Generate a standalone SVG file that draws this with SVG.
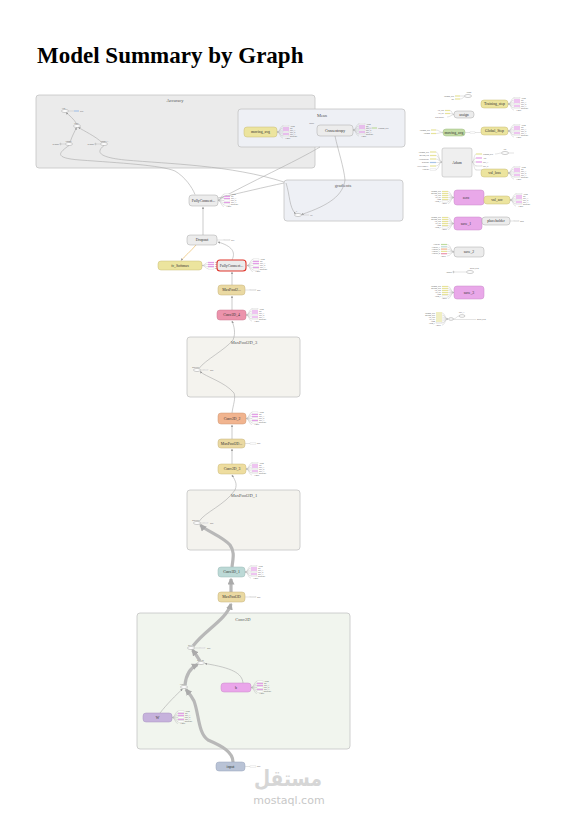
<svg xmlns="http://www.w3.org/2000/svg" width="573" height="820" viewBox="0 0 573 820">
<style>
.title{font-family:"Liberation Serif",serif;font-weight:bold;font-size:23px;fill:#000}
.box{stroke:#c4c4c4;stroke-width:0.8}
.bA{fill:#ebebeb}
.bM{fill:#eef0f5}
.bP{fill:#f4f3ee}
.bC{fill:#f1f5ee}
.bt{font-family:"Liberation Serif",serif;font-size:4.5px;fill:#555;text-anchor:middle}
.nd{stroke:#a8a8a8;stroke-width:0.5}
.gray{fill:#ececec}
.yel{fill:#ece49e;stroke:#c9bc76;stroke-width:0.5}
.mp{fill:#ead9a2;stroke:#c7b27a;stroke-width:0.5}
.t{font-family:"Liberation Serif",serif;font-size:3.8px;fill:#333;text-anchor:middle}
.s{font-family:"Liberation Serif",serif;font-size:1.9px;fill:#555}
.sr{text-anchor:end}
.op{fill:#fff;stroke:#999;stroke-width:0.5}
.e{fill:none;stroke:#aaa;stroke-width:0.6}
.th{fill:none;stroke:#b8b8b8;stroke-width:3.2}
.fl{fill:none;stroke:#b0b0b0;stroke-width:0.35}
.rw{fill:#fff;stroke:#bbb;stroke-width:0.25}
.rp{fill:#e39ee6}
.ry{fill:#e7e39a}
.rg{fill:#bedb9e}
.rb{fill:#a9c4e6}
.ro{fill:#f1b48e}
.rk{fill:#ec93ac}
.rt{fill:#bcd9d6}
.wm{font-family:"DejaVu Sans",sans-serif;fill:#d6d6d6}
</style>
<defs>
<marker id="ar" viewBox="0 0 10 10" refX="9" refY="5" markerWidth="4" markerHeight="4" orient="auto"><path d="M0,0L10,5L0,10z" fill="#999"/></marker>
<marker id="arT" viewBox="0 0 10 10" refX="8" refY="5" markerWidth="7" markerHeight="7" markerUnits="userSpaceOnUse" orient="auto"><path d="M0,0L10,5L0,10z" fill="#aaa"/></marker>
<g id="fan7">
<path class="fl" d="M0,0C3,0 3,-6 6,-6M0,0C3,0 3,-4 6,-4M0,0C3,0 3,-2 6,-2M0,0H6M0,0C3,0 3,2 6,2M0,0C3,0 3,4 6,4M0,0C3,0 3,6 6,6"/>
<rect class="rw" x="6" y="-6.6" width="6" height="1.2"/>
<rect class="rp" x="6" y="-4.6" width="6" height="1.2"/>
<rect class="rp" x="6" y="-2.6" width="6" height="1.2"/>
<rect class="rw" x="6" y="-0.6" width="6" height="1.2"/>
<rect class="rp" x="6" y="1.4" width="6" height="1.2"/>
<rect class="rw" x="6" y="3.4" width="6" height="1.2"/>
<text class="s" x="13" y="-5.3">Adam</text>
<text class="s" x="13" y="-3.3">init</text>
<text class="s" x="13" y="-1.3">save_1</text>
<text class="s" x="13" y="0.7">save_2</text>
<text class="s" x="13" y="2.7">save_3</text>
<text class="s" x="13" y="4.7">gradients</text>
<text class="s" x="8" y="6.7">1 more</text>
</g>
<g id="fan4">
<path class="fl" d="M0,0C3,0 3,-3 6,-3M0,0C3,0 3,-1 6,-1M0,0C3,0 3,1 6,1M0,0C3,0 3,3 6,3"/>
<rect class="rp" x="6" y="-3.6" width="6" height="1.2"/>
<rect class="rp" x="6" y="-1.6" width="6" height="1.2"/>
<rect class="rp" x="6" y="0.4" width="6" height="1.2"/>
<rect class="rw" x="6" y="2.4" width="6" height="1.2"/>
<text class="s" x="13" y="-2.3">save</text>
<text class="s" x="13" y="-0.3">save_1</text>
<text class="s" x="13" y="1.7">save_2</text>
<text class="s" x="13" y="3.7">gradients</text>
</g>
<g id="fin7">
<path class="fl" d="M0,0C-3,0 -3,-6 -6,-6M0,0C-3,0 -3,-4 -6,-4M0,0C-3,0 -3,-2 -6,-2M0,0H-6M0,0C-3,0 -3,2 -6,2M0,0C-3,0 -3,4 -6,4M0,0C-3,0 -3,6 -6,6"/>
<rect class="ry" x="-12" y="-6.6" width="6" height="1.2"/>
<rect class="ry" x="-12" y="-4.6" width="6" height="1.2"/>
<rect class="ry" x="-12" y="-2.6" width="6" height="1.2"/>
<rect class="ry" x="-12" y="-0.6" width="6" height="1.2"/>
<rect class="ry" x="-12" y="1.4" width="6" height="1.2"/>
<rect class="rw" x="-12" y="3.4" width="6" height="1.2"/>
<text class="s sr" x="-13" y="-5.3">training_step</text>
<text class="s sr" x="-13" y="-3.3">moving_step</text>
<text class="s sr" x="-13" y="-1.3">val_loss</text>
<text class="s sr" x="-13" y="0.7">val_acc</text>
<text class="s sr" x="-13" y="2.7">Adam</text>
<text class="s sr" x="-13" y="4.7">Adam_1</text>
<text class="s sr" x="-7" y="6.7">1 more</text>
</g>
</defs>
<rect x="0" y="0" width="573" height="820" fill="#fff"/>
<text class="title" x="37" y="63">Model Summary by Graph</text>

<!-- group boxes -->
<g id="Accuracy">
<rect class="box bA" x="36" y="95" width="279" height="73" rx="3"/>
<text class="bt" x="175" y="102">Accuracy</text>
<g id="Cast"><ellipse class="op" cx="65" cy="111" rx="3.5" ry="1.5"/><text class="s" x="62" y="108.5">Cast</text>
<path class="fl" d="M68.5,111H74"/><rect class="rb" x="74" y="110.4" width="5" height="1.2"/><text class="s" x="80" y="111.7">bool</text></g>
<g id="Equal"><ellipse class="op" cx="77" cy="126" rx="3.5" ry="1.5"/><text class="s" x="74" y="123.5">Equal</text></g>
<g id="ArgMax"><ellipse class="op" cx="69" cy="144" rx="3.5" ry="1.5"/><text class="s" x="65" y="141.5">ArgMax</text>
<text class="s sr" x="59" y="144.7">Reshape</text><circle class="op" cx="60.5" cy="144" r="0.7"/><path class="fl" d="M61.2,144H65.5"/></g>
<g id="ArgMax_1"><ellipse class="op" cx="104" cy="144" rx="3.5" ry="1.5"/><text class="s" x="100" y="141.5">ArgMax_1</text>
<text class="s sr" x="94" y="144.7">Reshape</text><circle class="op" cx="95.5" cy="144" r="0.7"/><path class="fl" d="M96.2,144H100.5"/></g>
</g>
<g id="Mean">
<rect class="box bM" x="238" y="109" width="167" height="38" rx="3"/>
<text class="bt" x="322" y="117">Mean</text>
<g id="moving_avg_m"><rect class="yel" x="244" y="127" width="33" height="10" rx="3"/><text class="t" x="260.5" y="133.3">moving_avg</text>
<use href="#fan7" transform="translate(277,132)"/></g>
<g id="Crossentropy"><rect class="gray nd" x="317" y="125" width="36" height="11" rx="3"/><text class="t" x="335" y="131.8">Crossentropy</text>
<use href="#fan7" transform="translate(353,130)"/>
<path class="fl" d="M366,128H372"/><rect class="rg" x="372" y="127.4" width="5" height="1.2"/><text class="s" x="378" y="128.7">Training_step</text>
<text class="s sr" x="314" y="124">output</text></g>
</g>
<g id="gradients">
<rect class="box bM" x="284" y="180" width="119" height="41" rx="3"/>
<text class="bt" x="343" y="187">gradients</text>
<ellipse class="op" cx="298" cy="215" rx="3.5" ry="1.5"/><text class="s" x="296" y="212">0</text>
<path class="fl" d="M301.5,215H309"/><text class="s" x="310" y="215.7">Fill</text>
</g>
<g id="MaxPool2D_3">
<rect class="box bP" x="187" y="337" width="113" height="60" rx="3"/>
<text class="bt" x="244" y="344">MaxPool2D_3</text>
<ellipse class="op" cx="197" cy="370" rx="3.5" ry="1.5"/><text class="s" x="192" y="367.5">MaxPool</text>
<path class="fl" d="M200.5,370H208"/><rect class="rw" x="204" y="369.4" width="4" height="1.2"/><text class="s" x="210" y="370.7">Max</text>
</g>
<g id="MaxPool2D_1">
<rect class="box bP" x="187" y="490" width="113" height="60" rx="3"/>
<text class="bt" x="244" y="497">MaxPool2D_1</text>
<ellipse class="op" cx="197" cy="523" rx="3.5" ry="1.5"/><text class="s" x="192" y="520.5">MaxPool</text>
<path class="fl" d="M200.5,523H208"/><rect class="rw" x="204" y="522.4" width="4" height="1.2"/><text class="s" x="210" y="523.7">Max</text>
</g>
<g id="Conv2D">
<rect class="box bC" x="137" y="613" width="213" height="136" rx="3"/>
<text class="bt" x="243" y="621">Conv2D</text>
<g id="Relu"><ellipse class="op" cx="191" cy="648" rx="3.5" ry="1.5"/><text class="s" x="188" y="645.5">Relu</text>
<path class="fl" d="M194.5,648H205"/><rect class="rw" x="200" y="647.4" width="5" height="1.2"/><text class="s" x="207" y="648.7">Max</text></g>
<g id="BiasAdd"><ellipse class="op" cx="201" cy="663" rx="3.5" ry="1.5"/><text class="s" x="197" y="660.5">BiasAdd</text></g>
<g id="Conv2D_op"><ellipse class="op" cx="184" cy="687" rx="3.5" ry="1.5"/><text class="s" x="180" y="684.5">Conv2D</text></g>
<g id="b"><rect x="221" y="683" width="30" height="9" rx="3" fill="#eaa6ea" stroke="#c88ac8" stroke-width="0.5"/><text class="t" x="236" y="689">b</text>
<use href="#fan7" transform="translate(251,687.5)"/></g>
<g id="W"><rect x="143" y="713" width="29" height="9" rx="3" fill="#c6b2dc" stroke="#a892c0" stroke-width="0.5"/><text class="t" x="157.5" y="719">W</text>
<use href="#fan7" transform="translate(172,717.5)"/></g>
</g>

<!-- connectors -->
<g id="edges">
<path class="e" d="M77,124.5C74,119 69,115 66,112.6" marker-end="url(#ar)"/>
<path class="e" d="M70,142.5C72,136 75,131 76.5,127.6" marker-end="url(#ar)"/>
<path class="e" d="M102,142.5C95,136 84,131 78.5,127.4" marker-end="url(#ar)"/>
<path class="e" d="M69,145.5C60,152 52,158 80,160C120,163 160,165 175,171C185,177 192,187 195,194.5"/>
<path class="e" d="M104,145.5C97,151 96,157 125,160C170,164 230,165 284,182"/>
<path class="e" d="M218,200C250,182 295,162 320,147"/>
<path class="e" d="M218,198C240,193 265,187 284,183"/>
<path class="e" d="M335,136C338,150 344,168 345,180C343,195 330,205 301.5,214.5" marker-end="url(#ar)"/>
<path class="e" d="M286,183C290,195 289,207 295.5,213.8" marker-end="url(#ar)"/>
<path class="e" d="M203,235V207" marker-end="url(#ar)"/>
<path fill="none" stroke="#e8b04c" stroke-width="0.6" d="M196,245C190,252 185,256 181,260.5" marker-end="url(#ar)"/>
<path class="e" d="M232,260C236,252 232,246 218,242" marker-end="url(#ar)"/>
<path class="e" d="M232,285V272" marker-end="url(#ar)"/>
<path class="e" d="M232,310V296" marker-end="url(#ar)"/>
<path class="e" d="M199,368.5C205,360 225,350 233,340C236,333 234,326 232,321" marker-end="url(#ar)"/>
<path class="e" d="M232,413C233,405 236,398 234,393C225,382 206,377 200,371.5" marker-end="url(#ar)"/>
<path class="e" d="M232,439V425" marker-end="url(#ar)"/>
<path class="e" d="M232,464V449" marker-end="url(#ar)"/>
<path class="e" d="M199,521.5C205,512 225,505 235,490C238,483 234,479 232,475" marker-end="url(#ar)"/>
<path class="th" d="M232,567C233,558 235,552 230,545C222,536 206,531 200.5,525" marker-end="url(#arT)"/>
<path class="th" d="M231,592V579" marker-end="url(#arT)"/>
<path class="th" d="M193,646C205,630 226,620 231,604" marker-end="url(#arT)"/>
<path class="th" d="M200,661C197,656 194,652 192.5,650" marker-end="url(#arT)"/>
<path class="th" d="M185,685C186,675 190,668 197.5,664.5" marker-end="url(#arT)"/>
<path class="th" d="M233,762C233,752 222,746 208,740C198,733 199,714 194,701C191,695 188,692 186,689.5" marker-end="url(#arT)"/>
<path class="e" d="M243,683C242,673 232,668 205,663.5" marker-end="url(#ar)"/>
<path class="e" d="M160,713C167,704 176,695 182.5,689" marker-end="url(#ar)"/>
</g>

<!-- main column nodes -->
<g id="FullyConnect"><rect class="gray nd" x="189" y="195" width="29" height="11" rx="3"/><text class="t" x="203.5" y="201.8">FullyConnect...</text>
<use href="#fan7" transform="translate(218,200.5)"/></g>
<g id="Dropout"><rect class="gray nd" x="187" y="235" width="30" height="10" rx="3"/><text class="t" x="202" y="241.3">Dropout</text>
<path class="fl" d="M217,240H230"/><rect class="rw" x="224" y="239.4" width="6" height="1.2"/><text class="s" x="231" y="240.7">Rate</text></g>
<g id="fc_Softmax"><rect class="yel" x="158" y="261" width="44" height="9" rx="3"/><text class="t" x="180" y="267">fc_Softmax</text>
<use href="#fan4" transform="translate(202,265.5)"/></g>
<g id="FullyConnected"><rect x="217" y="260" width="29" height="11" rx="3" fill="#ececec" stroke="#e0372d" stroke-width="1.1"/><text class="t" x="231.5" y="266.8">FullyConnect...</text>
<use href="#fan7" transform="translate(247,265.5)"/></g>
<g id="MaxPool2_a"><rect class="mp" x="218" y="285" width="27" height="10" rx="3"/><text class="t" x="231.5" y="291.3">MaxPool2...</text>
<path class="fl" d="M245,290H256"/><rect class="rw" x="250" y="289.4" width="6" height="1.2"/><text class="s" x="257" y="290.7">Max</text></g>
<g id="Conv2D_4"><rect x="217" y="310" width="29" height="10" rx="3" fill="#ec93ac" stroke="#c9778e" stroke-width="0.5"/><text class="t" x="231.5" y="316.3">Conv2D_4</text>
<use href="#fan7" transform="translate(246,315)"/></g>
<g id="Conv2D_2"><rect x="218" y="413" width="28" height="11" rx="3" fill="#f1b48f" stroke="#cf9673" stroke-width="0.5"/><text class="t" x="232" y="419.8">Conv2D_2</text>
<use href="#fan7" transform="translate(246,418.5)"/></g>
<g id="MaxPool2D_b"><rect class="mp" x="218" y="439" width="27" height="9" rx="3"/><text class="t" x="231.5" y="445">MaxPool2D...</text>
<path class="fl" d="M245,443.5H256"/><rect class="rw" x="250" y="442.9" width="6" height="1.2"/><text class="s" x="257" y="444.2">Max</text></g>
<g id="Conv2D_3"><rect x="218" y="464" width="28" height="10" rx="3" fill="#eedd9f" stroke="#cbb97a" stroke-width="0.5"/><text class="t" x="232" y="470.3">Conv2D_3</text>
<use href="#fan7" transform="translate(246,469)"/></g>
<g id="Conv2D_1"><rect x="218" y="567" width="27" height="10" rx="3" fill="#bcd9d6" stroke="#98b8b5" stroke-width="0.5"/><text class="t" x="231.5" y="573.3">Conv2D_1</text>
<use href="#fan7" transform="translate(245,572)"/></g>
<g id="MaxPool2D"><rect class="mp" x="218" y="592" width="27" height="10" rx="3"/><text class="t" x="231.5" y="598.3">MaxPool2D</text>
<path class="fl" d="M245,597H256"/><rect class="rw" x="250" y="596.4" width="6" height="1.2"/><text class="s" x="257" y="597.7">Max</text></g>
<g id="input"><rect x="216" y="762" width="29" height="9" rx="3" fill="#b9c3d6" stroke="#97a3ba" stroke-width="0.5"/><text class="t" x="230.5" y="768">input</text>
<path class="fl" d="M245,766.5H256"/><rect class="rw" x="250" y="765.9" width="6" height="1.2"/><text class="s" x="257" y="767.2">Max</text></g>

<!-- right column -->
<g id="Assign">
<text class="s sr" x="454" y="96.5">training_step</text><text class="s sr" x="454" y="99.5">init</text>
<rect class="ry" x="455" y="95.4" width="5" height="1.2"/><rect class="ry" x="455" y="98.4" width="5" height="1.2"/>
<path class="fl" d="M460,96C462,96 462,96 464.5,96M460,99C463,99 463,97 465,96.5"/>
<ellipse class="op" cx="468" cy="96" rx="3.5" ry="1.5"/><text class="s" x="466" y="92.5">Assign</text>
</g>
<g id="Training_step"><rect class="yel" x="481" y="100" width="27" height="8" rx="3"/><text class="t" x="494.5" y="105.3">Training_step</text>
<use href="#fan7" transform="translate(508,104)"/></g>
<g id="assign">
<rect class="gray nd" x="454" y="111" width="20" height="7" rx="3"/><text class="t" x="464" y="115.8">assign</text>
<text class="s sr" x="444" y="111">val_loss</text><text class="s sr" x="444" y="114">val_acc</text><text class="s sr" x="444" y="117.5">placeholder</text>
<rect class="ry" x="445" y="109.9" width="5" height="1.2"/><rect class="ry" x="445" y="112.9" width="5" height="1.2"/>
<path class="fl" d="M450,110.5C452,110.5 452,114.5 454,114.5M450,113.5C452,113.5 452,114.5 454,114.5M447,117C450,117 452,114.5 454,114.5"/>
</g>
<g id="moving_avg">
<rect x="443" y="129" width="22" height="7" rx="3" fill="#c4dca6" stroke="#9fbc83" stroke-width="0.5"/><text class="t" x="454" y="133.8">moving_avg</text>
<text class="s sr" x="430" y="130.5">Training_step</text><text class="s sr" x="430" y="134">Training</text>
<rect class="ry" x="431" y="129.4" width="5" height="1.2"/><rect class="ry" x="431" y="132.9" width="5" height="1.2"/>
<path class="fl" d="M436,130C439,130 440,132.5 443,132.5M436,133.5C439,133.5 440,132.5 443,132.5"/>
<path class="fl" d="M465,132.5H481"/><rect class="rw" x="470" y="131.9" width="5" height="1.2"/>
</g>
<g id="Global_Step"><rect class="yel" x="481" y="127" width="27" height="8" rx="3"/><text class="t" x="494.5" y="132.3">Global_Step</text>
<use href="#fan7" transform="translate(508,131)"/></g>
<g id="Adam">
<rect x="442" y="148" width="30" height="29" rx="2" fill="#efefef" stroke="#b0b0b0" stroke-width="0.5"/><text class="t" x="457" y="163.5">Adam</text>
<text class="s sr" x="429" y="152.7">Training_step</text><text class="s sr" x="429" y="156.2">moving_avg</text><text class="s sr" x="429" y="159.7">Crossentropy</text>
<text class="s sr" x="429" y="163.2">gradients</text><text class="s sr" x="429" y="166.7">FullyConnect...</text><text class="s sr" x="429" y="170.2">Conv2D</text>
<rect class="ry" x="430" y="151.4" width="6" height="1.2"/><rect class="ry" x="430" y="154.9" width="6" height="1.2"/><rect class="ry" x="430" y="158.4" width="6" height="1.2"/>
<rect class="rb" x="430" y="161.9" width="6" height="1.2"/><rect class="ry" x="430" y="165.4" width="6" height="1.2"/><rect class="rw" x="430" y="168.9" width="6" height="1.2"/>
<path class="fl" d="M436,152C439,152 439,162 442,162M436,155.5C439,155.5 439,162 442,162M436,159C439,159 439,162 442,162M436,162.5H442M436,166C439,166 439,162 442,162M436,169.5C439,169.5 439,162 442,162"/>
<path class="fl" d="M472,162C474,162 474,154 476,154M472,162C474,162 474,158 476,158M472,162C474,162 474,162 476,162M472,162C474,162 474,166 476,166M472,162C474,162 474,170 476,170"/>
<rect class="ry" x="476" y="153.4" width="6" height="1.2"/><rect class="rp" x="476" y="157.4" width="6" height="1.2"/><rect class="rp" x="476" y="161.4" width="6" height="1.2"/>
<rect class="rw" x="476" y="165.4" width="6" height="1.2"/><rect class="rw" x="476" y="169.4" width="6" height="1.2"/>
<text class="s" x="483" y="154.7">training_step</text><text class="s" x="483" y="158.7">Add</text><text class="s" x="483" y="162.7">save_1</text><text class="s" x="483" y="166.7">save_2</text><text class="s" x="483" y="170.7">save_3</text>
<path class="fl" d="M495,154C498,154 499,153 501.5,153"/>
<ellipse class="op" cx="505" cy="153" rx="3.5" ry="1.5"/><text class="s" x="503" y="149.5">Add</text>
<path class="fl" d="M508.5,153H514"/>
</g>
<g id="val_loss"><rect class="yel" x="481" y="169" width="27" height="8" rx="3"/><text class="t" x="494.5" y="174.3">val_loss</text>
<use href="#fan7" transform="translate(508,173)"/></g>
<g id="zero"><rect x="454" y="190" width="30" height="15" rx="3" fill="#e9a8e9" stroke="#c88ac8" stroke-width="0.5"/><text class="t" x="466" y="199">zero</text>
<use href="#fin7" transform="translate(454,197.5)"/></g>
<g id="val_acc"><rect class="yel" x="484" y="196" width="26" height="8" rx="3"/><text class="t" x="497" y="201.3">val_acc</text>
<use href="#fan7" transform="translate(510,200)"/></g>
<g id="save_1"><rect x="454" y="217" width="28" height="13" rx="3" fill="#e9a8e9" stroke="#c88ac8" stroke-width="0.5"/><text class="t" x="466" y="225">save_1</text>
<use href="#fin7" transform="translate(454,223.5)"/></g>
<g id="placeholder"><rect class="gray nd" x="482" y="217" width="28" height="8" rx="3"/><text class="t" x="496" y="222.3">placeholder</text>
<path class="fl" d="M510,221H519"/><rect class="rw" x="514" y="220.4" width="5" height="1.2"/><text class="s" x="520" y="221.7">input</text></g>
<g id="save_2"><rect class="gray nd" x="454" y="247" width="30" height="10" rx="3"/><text class="t" x="469" y="253.3">save_2</text>
<path class="fl" d="M447,244.5C451,244.5 451,252 454,252M447,246.8C451,246.8 451,252 454,252M447,249.1C451,249.1 451,252 454,252M447,251.4H454M447,253.7C451,253.7 451,252 454,252M447,256C451,256 451,252 454,252"/>
<rect class="rg" x="441" y="243.9" width="6" height="1.2"/><rect class="rt" x="441" y="246.2" width="6" height="1.2"/><rect class="ro" x="441" y="248.5" width="6" height="1.2"/>
<rect class="ry" x="441" y="250.8" width="6" height="1.2"/><rect class="rk" x="441" y="253.1" width="6" height="1.2"/>
<text class="s sr" x="440" y="245.2">Conv2D</text><text class="s sr" x="440" y="247.5">Conv2D_1</text><text class="s sr" x="440" y="249.8">Conv2D_2</text>
<text class="s sr" x="440" y="252.1">Conv2D_3</text><text class="s sr" x="440" y="254.4">Conv2D_4</text><text class="s sr" x="446" y="256.7">1 more</text></g>
<g id="group_deps">
<text class="s sr" x="452" y="272.7">ArgMax</text><circle class="op" cx="453.5" cy="272" r="0.7"/>
<path class="fl" d="M454.2,272H466.5"/>
<ellipse class="op" cx="470" cy="272" rx="3.5" ry="1.5"/><text class="s" x="470" y="268.5">group_deps</text>
</g>
<g id="save_3"><rect x="454" y="286" width="30" height="13" rx="3" fill="#e9a8e9" stroke="#c88ac8" stroke-width="0.5"/><text class="t" x="469" y="294">save_3</text>
<use href="#fin7" transform="translate(454,292.5)"/></g>
<g id="init">
<use href="#fin7" transform="translate(448,319)"/>
<ellipse class="op" cx="451" cy="319" rx="2.5" ry="1.3"/>
<path class="fl" d="M453.5,319C456,319 457,316 459,316"/>
<ellipse class="op" cx="462" cy="316" rx="3" ry="1.3"/><text class="s" x="459" y="313">save_3</text>
<path class="fl" d="M453.5,319.5H476"/><text class="s" x="477" y="320.2">group_deps</text>
</g>

<!-- watermark -->
<text class="wm" x="288" y="786" font-size="22" font-weight="bold" text-anchor="middle" textLength="68" lengthAdjust="spacingAndGlyphs">مستقل</text>
<text class="wm" x="289" y="804" font-size="11" text-anchor="middle" style="fill:#c8c8c8">mostaql.com</text>
</svg>
